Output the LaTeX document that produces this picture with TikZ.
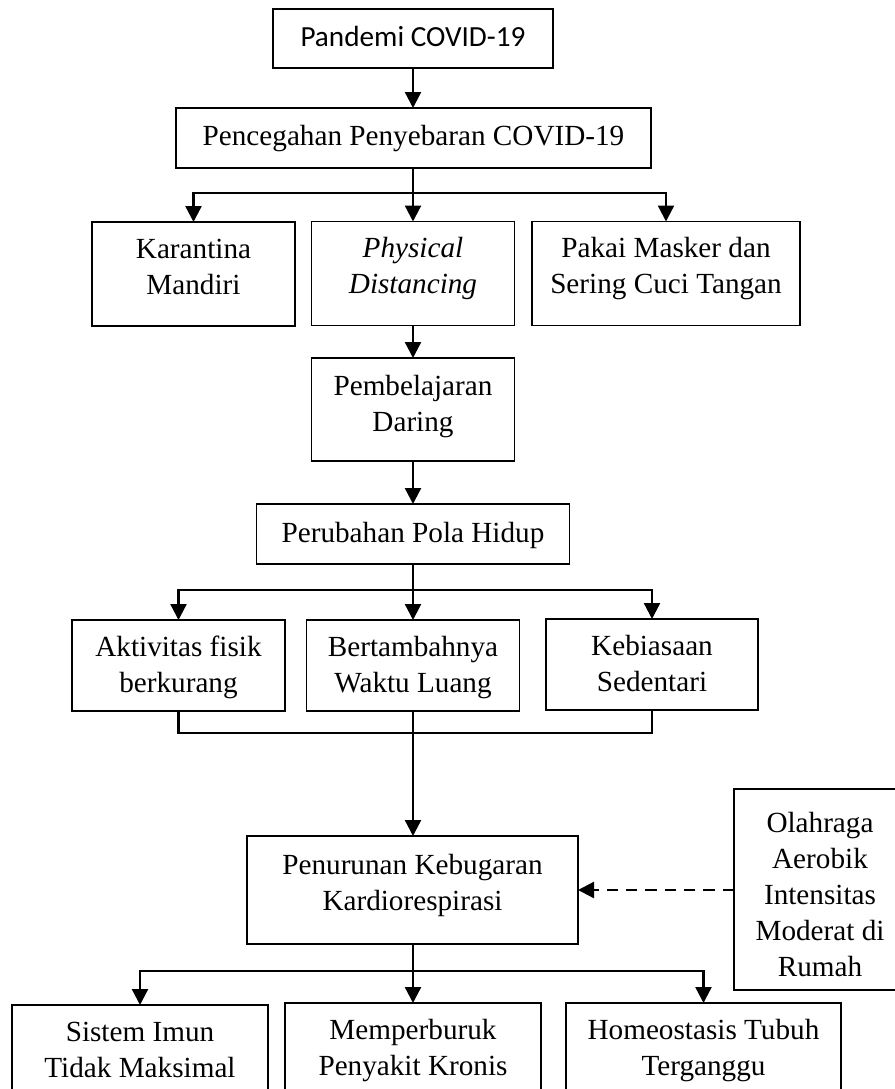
\documentclass[tikz,border=0pt]{standalone}
\usepackage{fontspec}
\setmainfont{Liberation Serif}
\newfontfamily\calibrifont{Carlito}
\usetikzlibrary{arrows.meta}
\newlength\pxu \setlength\pxu{0.75pt}
\newcommand\Tup[1]{\rule{0pt}{#1\pxu}}
\newcommand\Bdn[1]{\rule[-#1\pxu]{0pt}{#1\pxu}}
\tikzset{
  box/.style={draw=black, line width=0.85pt, rectangle, inner sep=0pt, outer sep=0pt,
    align=center, font=\fontsize{21.9pt}{27pt}\selectfont},
  sz/.style 2 args={minimum width=#1*0.75pt, minimum height=#2*0.75pt},
  conn/.style={line width=1.75pt},
  arr/.style={conn, -{Triangle[width=12pt,length=12pt]}},
  dasharr/.style={arr, dash pattern=on 8.5pt off 6pt},
}
\begin{document}
\begin{tikzpicture}[x=0.75pt,y=-0.75pt]
\useasboundingbox (0,0) rectangle (895,1089);
\fill[white] (0,0) rectangle (895,1089);
\clip (0,0) rectangle (895,1089);

% boxes
\node[box, sz={280}{59}]  (pan) at (413,38.5) {\calibrifont\Tup{34}Pandemi COVID-19\Bdn{18}};
\node[box, sz={475}{60}]  (pen) at (413.5,138) {\Tup{33}Pencegahan Penyebaran COVID-19\Bdn{19}};
\node[box, sz={203}{104}] (kar) at (193.5,274) {\Tup{28}Karantina\\Mandiri\Bdn{24}};
\node[box, sz={203}{104}] (phy) at (413,273.5) {\Tup{28}\textit{Physical}\\\textit{Distancing}\Bdn{24}};
\node[box, sz={268}{104}] (pak) at (666,273.5) {\Tup{28}Pakai Masker dan\\Sering Cuci Tangan\Bdn{24}};
\node[box, sz={203}{103}] (pem) at (413,409.5) {\Tup{30}Pembelajaran\\Daring\Bdn{22}};
\node[box, sz={313}{60}]  (per) at (413,534) {\Tup{34}Perubahan Pola Hidup\Bdn{18}};
\node[box, sz={213}{91}]  (akt) at (178.5,665.5) {\Tup{35}Aktivitas fisik\\berkurang\Bdn{17}};
\node[box, sz={213}{91}]  (ber) at (413,665.5) {\Tup{35}Bertambahnya\\Waktu Luang\Bdn{17}};
\node[box, sz={212}{91}]  (keb) at (652,664.5) {\Tup{35}Kebiasaan\\Sedentari\Bdn{17}};
\node[box, sz={331}{108}] (pnr) at (412.5,890) {\Tup{28}Penurunan Kebugaran\\Kardiorespirasi\Bdn{24}};
\node[box, sz={172}{201}] (ola) at (820,889.5) {\Tup{41}Olahraga\\Aerobik\\Intensitas\\Moderat di\\Rumah\Bdn{11}};
\node[box, sz={256}{104}] (sis) at (140,1057) {\Tup{28}Sistem Imun\\Tidak Maksimal\Bdn{24}};
\node[box, sz={256}{104}] (mem) at (413,1055) {\Tup{28}Memperburuk\\Penyakit Kronis\Bdn{24}};
\node[box, sz={275}{104}] (hom) at (703.5,1055) {\Tup{28}Homeostasis Tubuh\\Terganggu\Bdn{24}};

% branch points
\coordinate (b1) at (413,193);
\coordinate (b2) at (413,590);
\coordinate (j1) at (413,733);
\coordinate (b3) at (413,971);

% connectors
\draw[arr] (pan.south) -- (pan.south |- pen.north);
\draw[arr] (pen.south -| phy.north) -- (phy.north);
\draw[arr] (b1) -| (kar.north);
\draw[arr] (b1) -| (pak.north);
\draw[arr] (phy.south) -- (pem.north);
\draw[arr] (pem.south) -- (per.north);
\draw[arr] (per.south) -- (ber.north);
\draw[arr] (b2) -| (akt.north);
\draw[arr] (b2) -| (keb.north);
\draw[conn] (akt.south) |- (j1);
\draw[conn] (keb.south) |- (j1);
\draw[arr] (ber.south) -- (ber.south |- pnr.north);
\draw[arr] (pnr.south -| mem.north) -- (mem.north);
\draw[arr] (b3) -| (sis.north);
\draw[arr] (b3) -| (hom.north);
\draw[dasharr] (pnr.east -| ola.west) -- (pnr.east);
\end{tikzpicture}
\end{document}
